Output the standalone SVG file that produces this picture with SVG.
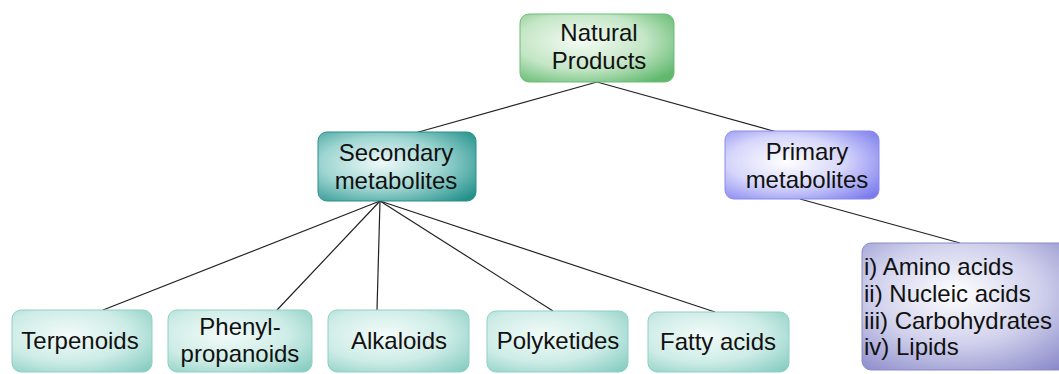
<svg xmlns="http://www.w3.org/2000/svg" width="1059" height="374" viewBox="0 0 1059 374">
<defs>
<radialGradient id="gGreen" cx="0.4" cy="0.4" r="0.75">
<stop offset="0" stop-color="#f4fbf4"/><stop offset="0.55" stop-color="#c4e6c6"/><stop offset="1" stop-color="#5fb86c"/>
</radialGradient>
<radialGradient id="gDark" cx="0.4" cy="0.45" r="0.75">
<stop offset="0" stop-color="#eef9f8"/><stop offset="0.5" stop-color="#9fd6d2"/><stop offset="1" stop-color="#23908a"/>
</radialGradient>
<radialGradient id="gPurple" cx="0.4" cy="0.45" r="0.75">
<stop offset="0" stop-color="#ffffff"/><stop offset="0.5" stop-color="#d6d6fb"/><stop offset="1" stop-color="#7a7aee"/>
</radialGradient>
<radialGradient id="gTeal" cx="0.4" cy="0.4" r="0.8">
<stop offset="0" stop-color="#f3fbf9"/><stop offset="0.55" stop-color="#cdece6"/><stop offset="1" stop-color="#86cdc1"/>
</radialGradient>
<radialGradient id="gLav" cx="0.45" cy="0.4" r="0.8">
<stop offset="0" stop-color="#ffffff"/><stop offset="0.5" stop-color="#d0d0ec"/><stop offset="1" stop-color="#8383c6"/>
</radialGradient>
<style>
text{font-family:"Liberation Sans",Arial,sans-serif;font-size:24px;fill:#111;text-anchor:middle}
.l{text-anchor:start;font-size:24px}
.c line{stroke:#222;stroke-width:1.2}
</style>
</defs>
<g class="c" id="connectors">
<line x1="597" y1="82" x2="415" y2="133"/>
<line x1="597" y1="82" x2="777" y2="132"/>
<line x1="380" y1="201" x2="103" y2="310"/>
<line x1="380" y1="201" x2="277" y2="310"/>
<line x1="380" y1="201" x2="377" y2="310"/>
<line x1="380" y1="201" x2="553" y2="311"/>
<line x1="380" y1="201" x2="715" y2="312"/>
<line x1="800" y1="199" x2="960" y2="243"/>
</g>
<g id="natural-products">
<rect x="520" y="14" width="154" height="68" rx="9" fill="url(#gGreen)" stroke="#6cbd78"/>
<text x="599" y="41">Natural</text><text x="599" y="69">Products</text>
</g>
<g id="secondary">
<rect x="318" y="132" width="158" height="69" rx="9" fill="url(#gDark)" stroke="#2a8f8a"/>
<text x="396" y="161">Secondary</text><text x="396" y="189">metabolites</text>
</g>
<g id="primary">
<rect x="725" y="131" width="154" height="68" rx="9" fill="url(#gPurple)" stroke="#8a8af0"/>
<text x="807" y="160">Primary</text><text x="807" y="188">metabolites</text>
</g>
<g id="terpenoids">
<rect x="12" y="310" width="140" height="62" rx="9" fill="url(#gTeal)" stroke="#8fd0c4"/>
<text x="80" y="349">Terpenoids</text>
</g>
<g id="phenylpropanoids">
<rect x="168" y="310" width="144" height="62" rx="9" fill="url(#gTeal)" stroke="#8fd0c4"/>
<text x="240" y="335">Phenyl-</text><text x="240" y="362">propanoids</text>
</g>
<g id="alkaloids">
<rect x="328" y="310" width="141" height="62" rx="9" fill="url(#gTeal)" stroke="#8fd0c4"/>
<text x="399" y="349">Alkaloids</text>
</g>
<g id="polyketides">
<rect x="487" y="311" width="141" height="61" rx="9" fill="url(#gTeal)" stroke="#8fd0c4"/>
<text x="558" y="349">Polyketides</text>
</g>
<g id="fatty-acids">
<rect x="648" y="312" width="141" height="60" rx="9" fill="url(#gTeal)" stroke="#8fd0c4"/>
<text x="718" y="350">Fatty acids</text>
</g>
<g id="primary-list">
<rect x="862" y="243" width="210" height="127" rx="9" fill="url(#gLav)" stroke="#8a8ac8"/>
<text class="l" x="864" y="275">i) Amino acids</text>
<text class="l" x="864" y="302">ii) Nucleic acids</text>
<text class="l" x="864" y="329">iii) Carbohydrates</text>
<text class="l" x="864" y="355">iv) Lipids</text>
</g>
</svg>
